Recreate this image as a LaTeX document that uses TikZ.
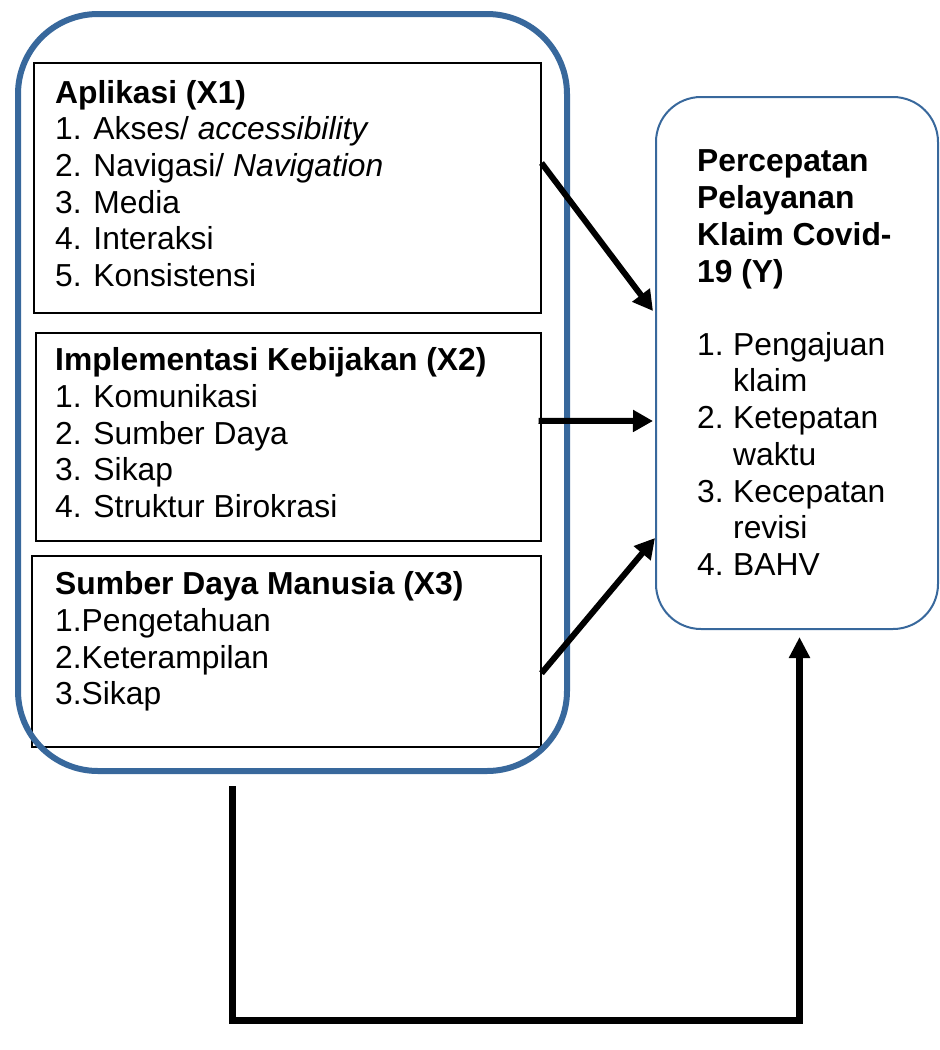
\documentclass[tikz,border=0pt]{standalone}
\usepackage{fontspec}
\setmainfont{Liberation Sans}
\usetikzlibrary{arrows.meta,calc}
\definecolor{bblue}{RGB}{56,104,156}
\begin{document}
\begin{tikzpicture}[x=1pt,y=-1pt,
  txt/.style={anchor=base west, inner sep=0pt, font=\fontsize{31.8}{36}\selectfont},
  hd/.style={anchor=base west, inner sep=0pt, font=\fontsize{31.8}{36}\selectfont\bfseries},
  ibox/.style={draw=black, line width=1.5pt, inner sep=0pt, anchor=north west},
  grp/.style={draw=bblue, line width=6pt, rounded corners=80pt, inner sep=0pt, anchor=north west},
  ybox/.style={draw=bblue, line width=2pt, rounded corners=45pt, inner sep=0pt, anchor=north west},
  arr/.style={line width=6pt, -{Triangle[length=20pt,width=21pt]}},
]
\useasboundingbox (0,0) rectangle (940,1050);

% inner boxes
\node[ibox, minimum width=507pt, minimum height=250pt] (x1) at (33,62) {};
\node[ibox, minimum width=505pt, minimum height=208pt] (x2) at (35,332) {};
\node[ibox, minimum width=509pt, minimum height=191pt] (x3) at (31,555) {};

% group box
\node[grp, minimum width=549pt, minimum height=757pt] (grp) at (15,11) {};

% Y box
\node[ybox, minimum width=282pt, minimum height=532pt] (y) at (655,96) {};

% X1 text
\node[hd] (x1h) at (55,103) {Aplikasi (X1)};
\node[txt] (x1a) at (55,139) {1. Akses/ \textit{accessibility}};
\node[txt] (x1b) at (55,176) {2. Navigasi/ \textit{Navigation}};
\node[txt] (x1c) at (55,213) {3. Media};
\node[txt] (x1d) at (55,249) {4. Interaksi};
\node[txt] (x1e) at (55,286) {5. Konsistensi};

% X2 text
\node[hd] (x2h) at (55,370) {Implementasi Kebijakan (X2)};
\node[txt] (x2a) at (55,407) {1. Komunikasi};
\node[txt] (x2b) at (55,444) {2. Sumber Daya};
\node[txt] (x2c) at (55,480) {3. Sikap};
\node[txt] (x2d) at (55,517) {4. Struktur Birokrasi};

% X3 text
\node[hd] (x3h) at (55,594) {Sumber Daya Manusia (X3)};
\node[txt] (x3a) at (55,631) {1.Pengetahuan};
\node[txt] (x3b) at (55,668) {2.Keterampilan};
\node[txt] (x3c) at (55,704) {3.Sikap};

% Y text
\node[hd] (yh1) at (697,171) {Percepatan};
\node[hd] (yh2) at (697,208) {Pelayanan};
\node[hd] (yh3) at (697,245) {Klaim Covid-};
\node[hd] (yh4) at (697,282) {19 (Y)};
\node[txt] (y1a) at (697,355) {1.};
\node[txt] (y1b) at (733,355) {Pengajuan};
\node[txt] (y1c) at (733,391) {klaim};
\node[txt] (y2a) at (697,428) {2.};
\node[txt] (y2b) at (733,428) {Ketepatan};
\node[txt] (y2c) at (733,465) {waktu};
\node[txt] (y3a) at (697,502) {3.};
\node[txt] (y3b) at (733,502) {Kecepatan};
\node[txt] (y3c) at (733,538) {revisi};
\node[txt] (y4a) at (697,575) {4.};
\node[txt] (y4b) at (733,575) {BAHV};

% arrows
\coordinate (a1s) at ($(x1.north east)+(0,101)$);
\coordinate (a1e) at ($(y.west)+(-2,-52)$);
\coordinate (a2s) at ($(x2.east)+(-3,-16)$);
\coordinate (a2e) at ($(y.west)+(-2,58)$);
\coordinate (a3s) at ($(x3.east)+(0,22)$);
\coordinate (a3e) at ($(y.west)+(0,175)$);
\draw[arr] (a1s) -- (a1e);
\draw[arr] (a2s) -- (a2e);
\draw[arr] (a3s) -- (a3e);

\coordinate (b0) at (232,786);
\coordinate (b1) at (232,1020);
\coordinate (bt) at ($(y.south)+(2.5,7)$);
\draw[line width=7pt, -{Triangle[length=21pt,width=20pt]}] (b0) -- (b1) -| (bt);
\end{tikzpicture}
\end{document}
